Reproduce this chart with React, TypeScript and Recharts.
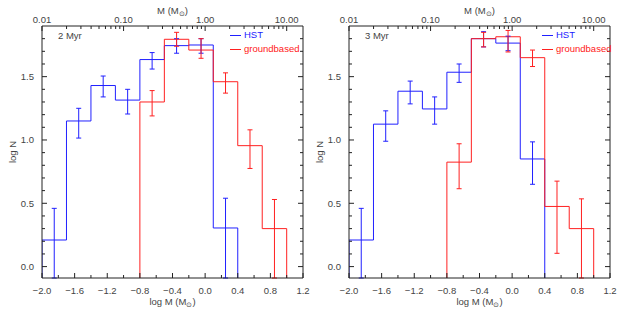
import React from "react";
import {
  ComposedChart,
  Line,
  Scatter,
  ErrorBar,
  XAxis,
  YAxis,
  Legend,
  Label,
} from "recharts";

// bin edges (log M) and centers
const binEdges = [-2.0, -1.7, -1.4, -1.1, -0.8, -0.5, -0.2, 0.1, 0.4, 0.7, 1.0];
const binCenters = [-1.85, -1.55, -1.25, -0.95, -0.65, -0.35, -0.05, 0.25, 0.55, 0.85];

// 2 Myr panel
const hst2 = [0.21, 1.15, 1.43, 1.315, 1.635, 1.745, 1.75, 0.305];
const hst2Hi = [0.46, 1.25, 1.505, 1.4, 1.69, 1.8, 1.8, 0.54];
const hst2Lo = [-0.5, 1.015, 1.34, 1.205, 1.56, 1.685, 1.685, -0.5];
const gb2 = [1.3, 1.795, 1.71, 1.46, 0.955, 0.3];
const gb2Hi = [1.39, 1.85, 1.8, 1.53, 1.08, 0.53];
const gb2Lo = [1.19, 1.74, 1.645, 1.37, 0.775, -0.5];

// 3 Myr panel
const hst3 = [0.21, 1.125, 1.385, 1.245, 1.535, 1.8, 1.765, 0.85];
const hst3Hi = [0.46, 1.23, 1.465, 1.34, 1.6, 1.855, 1.82, 0.985];
const hst3Lo = [-0.5, 0.99, 1.285, 1.125, 1.455, 1.735, 1.705, 0.65];
const gb3 = [0.825, 1.8, 1.815, 1.65, 0.475, 0.3];
const gb3Hi = [0.97, 1.85, 1.865, 1.71, 0.675, 0.535];
const gb3Lo = [0.615, 1.735, 1.695, 1.58, 0.105, -0.5];

const hstStart = 0; // first bin index of HST
const gbStart = 4; // first bin index of groundbased

// axis ticks
const xMajor = [-2.0, -1.6, -1.2, -0.8, -0.4, 0.0, 0.4, 0.8, 1.2];
const xMinor = [-1.8, -1.4, -1.0, -0.6, -0.2, 0.2, 0.6, 1.0];
const yMajor = [0.0, 0.5, 1.0, 1.5];
const yMinor = [0.1, 0.2, 0.3, 0.4, 0.6, 0.7, 0.8, 0.9, 1.1, 1.2, 1.3, 1.4, 1.6, 1.7, 1.8];
const topMajorMasses = [0.01, 0.1, 1, 10];
const topMajorLabels = ["0.01", "0.10", "1.00", "10.00"];
const topMinorMasses = [
  0.02, 0.03, 0.04, 0.05, 0.06, 0.07, 0.08, 0.09,
  0.2, 0.3, 0.4, 0.5, 0.6, 0.7, 0.8, 0.9,
  2, 3, 4, 5, 6, 7, 8, 9,
];

const X_DOMAIN: [number, number] = [-2.0, 1.2];
const Y_DOMAIN: [number, number] = [-0.09, 1.9];

const BLUE = "#2020ff";
const RED = "#ff2020";
const FRAME = "#222";
const TXT = "#444";
const FONT = "'Liberation Sans', Arial, sans-serif";
const FS = 9.5;
const TM = 4;

const near = (v: number, list: number[]) => list.some((m) => Math.abs(m - v) < 1e-6);
const fmt = (v: number) => (v < -1e-9 ? "\u2212" : "") + Math.abs(v).toFixed(1);

const stepData = (vals: number[], start: number) => [
  { x: binEdges[start], y: Y_DOMAIN[0] },
  ...vals.map((v, i) => ({ x: binEdges[start + i], y: v })),
  { x: binEdges[start + vals.length], y: Y_DOMAIN[0] },
];

// error bars are cut at the lower edge of the frame
const errData = (vals: number[], lo: number[], hi: number[], start: number) =>
  vals.map((v, i) => ({
    x: binCenters[start + i],
    y: v,
    err: [v - Math.max(lo[i], Y_DOMAIN[0]), hi[i] - v],
  }));

const BottomTick = (props: any) => {
  const { x, y, payload } = props;
  const axisY = y - TM;
  const major = near(payload.value, xMajor);
  return (
    <g>
      <line x1={x} x2={x} y1={axisY} y2={axisY - (major ? 5 : 3)} stroke={FRAME} />
      {major && (
        <text x={x} y={axisY + 15.5} textAnchor="middle" fill={TXT} fontSize={FS} fontFamily={FONT}>
          {fmt(payload.value)}
        </text>
      )}
    </g>
  );
};

const TopTick = (props: any) => {
  const { y, payload } = props;
  const x = payload.coordinate;
  const axisY = y + TM;
  const idx = topMajorMasses.findIndex((m) => Math.abs(Math.log10(m) - payload.value) < 1e-6);
  return (
    <g>
      <line x1={x} x2={x} y1={axisY} y2={axisY + (idx >= 0 ? 5 : 3)} stroke={FRAME} />
      {idx >= 0 && (
        <text x={x} y={axisY - 3.5} textAnchor="middle" fill={TXT} fontSize={FS} fontFamily={FONT}>
          {topMajorLabels[idx]}
        </text>
      )}
    </g>
  );
};

const LeftTick = (props: any) => {
  const { x, y, payload } = props;
  const axisX = x + TM;
  const major = near(payload.value, yMajor);
  return (
    <g>
      <line x1={axisX} x2={axisX + (major ? 5 : 3)} y1={y} y2={y} stroke={FRAME} />
      {major && (
        <text x={axisX - 8} y={y + 3.5} textAnchor="end" fill={TXT} fontSize={FS} fontFamily={FONT}>
          {fmt(payload.value)}
        </text>
      )}
    </g>
  );
};

const RightTick = (props: any) => {
  const { x, y, payload } = props;
  const axisX = x - TM;
  const major = near(payload.value, yMajor);
  return <line x1={axisX} x2={axisX - (major ? 5 : 3)} y1={y} y2={y} stroke={FRAME} />;
};

const xTicks = [...xMajor, ...xMinor].sort((a, b) => a - b);
const yTicks = [...yMajor, ...yMinor].sort((a, b) => a - b);
const topTicks = [...topMajorMasses, ...topMinorMasses].map((m) => Math.log10(m)).sort((a, b) => a - b);

const Sun = () => (
  <tspan fontSize={7} dy={2}>
    {"\u2299"}
  </tspan>
);

const LegendBox = () => (
  <div style={{ fontFamily: FONT, fontSize: FS, lineHeight: "14px" }}>
    {[
      { name: "HST", color: BLUE },
      { name: "groundbased", color: RED },
    ].map((s) => (
      <div key={s.name} style={{ display: "flex", alignItems: "center", color: s.color }}>
        <svg width={14} height={14} style={{ display: "block" }}>
          <line x1={0} x2={11} y1={7.5} y2={7.5} stroke={s.color} strokeWidth={1} />
        </svg>
        <span>{s.name}</span>
      </div>
    ))}
  </div>
);

const Panel = ({
  age,
  hst,
  hstLo,
  hstHi,
  gb,
  gbLo,
  gbHi,
  legendX,
}: {
  age: string;
  hst: number[];
  hstLo: number[];
  hstHi: number[];
  gb: number[];
  gbLo: number[];
  gbHi: number[];
  legendX: number;
}) => (
  <ComposedChart width={315} height={315} margin={{ top: 0, right: 0, bottom: 0, left: 0 }}>
    <XAxis
      xAxisId="b"
      dataKey="x"
      type="number"
      domain={X_DOMAIN}
      allowDataOverflow
      ticks={xTicks}
      interval={0}
      tickLine={false}
      tickSize={0}
      tickMargin={TM}
      height={37}
      axisLine={{ stroke: FRAME }}
      tick={BottomTick}
    >
      <Label
        content={(p: any) => {
          const vb = p.viewBox;
          return (
            <text x={vb.x + vb.width / 2} y={vb.y + 26.5} textAnchor="middle" fill={TXT} fontSize={FS} fontFamily={FONT}>
              log M (M<Sun />
              <tspan dy={-2}>)</tspan>
            </text>
          );
        }}
      />
    </XAxis>
    <XAxis
      xAxisId="t"
      dataKey="x"
      orientation="top"
      type="number"
      domain={X_DOMAIN}
      allowDataOverflow
      ticks={topTicks}
      interval={0}
      tickLine={false}
      tickSize={0}
      tickMargin={TM}
      height={26}
      axisLine={{ stroke: FRAME }}
      tick={TopTick}
    >
      <Label
        content={(p: any) => {
          const vb = p.viewBox;
          return (
            <text x={vb.x + vb.width / 2} y={14} textAnchor="middle" fill={TXT} fontSize={FS} fontFamily={FONT}>
              M (M<Sun />
              <tspan dy={-2}>)</tspan>
            </text>
          );
        }}
      />
    </XAxis>
    <YAxis
      yAxisId="l"
      dataKey="y"
      type="number"
      domain={Y_DOMAIN}
      allowDataOverflow
      ticks={yTicks}
      interval={0}
      tickLine={false}
      tickSize={0}
      tickMargin={TM}
      width={42}
      axisLine={{ stroke: FRAME }}
      tick={LeftTick}
    >
      <Label
        content={(p: any) => {
          const vb = p.viewBox;
          const cx = vb.x + vb.width - 30;
          const cy = vb.y + vb.height / 2;
          return (
            <g>
              <text
                x={cx}
                y={cy}
                transform={`rotate(-90 ${cx} ${cy})`}
                textAnchor="middle"
                dominantBaseline="central"
                fill={TXT}
                fontSize={FS}
                fontFamily={FONT}
              >
                log N
              </text>
              <text x={vb.x + vb.width + 16} y={vb.y + 12.5} fill={TXT} fontSize={FS} fontFamily={FONT}>
                {age}
              </text>
            </g>
          );
        }}
      />
    </YAxis>
    <YAxis
      yAxisId="r"
      dataKey="y"
      orientation="right"
      type="number"
      domain={Y_DOMAIN}
      allowDataOverflow
      ticks={yTicks}
      interval={0}
      tickLine={false}
      tickSize={0}
      tickMargin={TM}
      width={12}
      axisLine={{ stroke: FRAME }}
      tick={RightTick}
    />
    <Legend
      layout="vertical"
      align="center"
      verticalAlign="middle"
      content={LegendBox}
      wrapperStyle={{ left: legendX, top: 28, width: 80, height: 30 }}
    />
    {/* invisible copy so the top and right frame axes are drawn */}
    <Line
      xAxisId="t"
      yAxisId="r"
      data={stepData(hst, hstStart)}
      dataKey="y"
      type="stepAfter"
      stroke="none"
      dot={false}
      activeDot={false}
      isAnimationActive={false}
      legendType="none"
    />
    <Line
      xAxisId="b"
      yAxisId="l"
      data={stepData(hst, hstStart)}
      dataKey="y"
      type="stepAfter"
      stroke={BLUE}
      strokeWidth={1}
      dot={false}
      activeDot={false}
      isAnimationActive={false}
      name="HST"
    />
    <Line
      xAxisId="b"
      yAxisId="l"
      data={stepData(gb, gbStart)}
      dataKey="y"
      type="stepAfter"
      stroke={RED}
      strokeWidth={1}
      dot={false}
      activeDot={false}
      isAnimationActive={false}
      name="groundbased"
    />
    <Scatter
      xAxisId="b"
      yAxisId="l"
      data={errData(hst, hstLo, hstHi, hstStart)}
      dataKey="y"
      shape={() => <g />}
      isAnimationActive={false}
      legendType="none"
    >
      <ErrorBar dataKey="err" direction="y" width={2.5} stroke={BLUE} strokeWidth={1} isAnimationActive={false} />
    </Scatter>
    <Scatter
      xAxisId="b"
      yAxisId="l"
      data={errData(gb, gbLo, gbHi, gbStart)}
      dataKey="y"
      shape={() => <g />}
      isAnimationActive={false}
      legendType="none"
    >
      <ErrorBar dataKey="err" direction="y" width={2.5} stroke={RED} strokeWidth={1} isAnimationActive={false} />
    </Scatter>
  </ComposedChart>
);

export default function App() {
  return (
    <div style={{ position: "absolute", left: 0, top: 0, width: 630, height: 315, background: "#fff" }}>
      <div style={{ position: "absolute", left: 0, top: 0 }}>
        <Panel age="2 Myr" hst={hst2} hstLo={hst2Lo} hstHi={hst2Hi} gb={gb2} gbLo={gb2Lo} gbHi={gb2Hi} legendX={230} />
      </div>
      <div style={{ position: "absolute", left: 307, top: 0 }}>
        <Panel age="3 Myr" hst={hst3} hstLo={hst3Lo} hstHi={hst3Hi} gb={gb3} gbLo={gb3Lo} gbHi={gb3Hi} legendX={235} />
      </div>
    </div>
  );
}
